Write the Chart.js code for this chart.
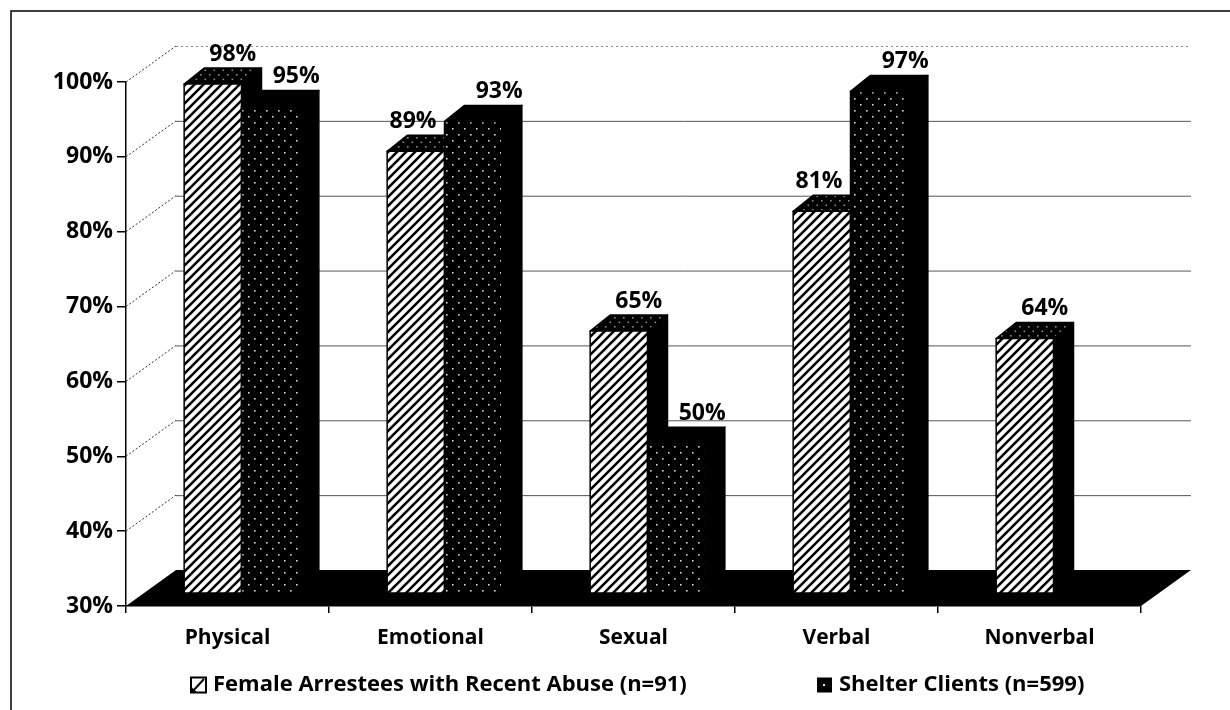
<!DOCTYPE html>
<html><head><meta charset="utf-8">
<script src="https://cdn.jsdelivr.net/npm/chart.js@4.4.1/dist/chart.umd.min.js"></script>
<style>html,body{margin:0;padding:0;background:#fff;}#wrap{width:1230px;height:710px;position:relative;}</style>
</head><body><div id="wrap"><canvas id="c" width="1230" height="710"></canvas></div>
<script>
const categories = ['Physical', 'Emotional', 'Sexual', 'Verbal', 'Nonverbal'];
const arresteeValues = [98, 89, 65, 81, 64];
const shelterValues = [95, 93, 50, 97, null];
const seriesLabels = ['Female Arrestees with Recent Abuse (n=91)', 'Shelter Clients (n=599)'];
const yMin = 30, yMax = 100, yStep = 10;

const FONT = '"Open Sans", "Liberation Sans", sans-serif';
const WALL_DX = 50, WALL_DY = -36;     // depth of the floor / back wall
const BAR_SHIFT_X = 14, BAR_SHIFT_Y = -13; // bars sit inside the floor depth
const BAR_DX = 20, BAR_DY = -16;       // depth of each bar

function makeHatch() {
  const c = document.createElement('canvas'); c.width = 9; c.height = 9;
  const g = c.getContext('2d');
  g.fillStyle = '#fff'; g.fillRect(0, 0, 9, 9);
  g.strokeStyle = '#000'; g.lineWidth = 2.6;
  g.beginPath();
  g.moveTo(-2, 11); g.lineTo(11, -2);
  g.moveTo(-11, 11); g.lineTo(2, -2);
  g.moveTo(7, 11); g.lineTo(20, -2);
  g.stroke();
  return g.createPattern(c, 'repeat');
}
function makeDots(bg, dot, size) {
  const c = document.createElement('canvas'); c.width = size; c.height = size;
  const g = c.getContext('2d');
  g.fillStyle = bg; g.fillRect(0, 0, size, size);
  g.fillStyle = dot;
  g.fillRect(2, 2, 1.6, 1.6);
  g.fillRect(2 + size / 2, 2 + size / 2, 1.6, 1.6);
  return g.createPattern(c, 'repeat');
}
const hatch = makeHatch();
const dots = makeDots('#000', '#d8d8d8', 12);
const topDots = makeDots('#000', '#8a8a8a', 9);

const framePlugin = {
  id: 'frame',
  beforeDraw(chart) {
    const ctx = chart.ctx;
    ctx.save();
    ctx.fillStyle = '#fff';
    ctx.fillRect(0, 0, chart.width, chart.height);
    ctx.strokeStyle = '#000'; ctx.lineWidth = 1.5;
    ctx.beginPath();
    ctx.moveTo(11, chart.height + 2); ctx.lineTo(11, 11); ctx.lineTo(chart.width + 2, 11);
    ctx.stroke();
    ctx.restore();
  }
};

const wallPlugin = {
  id: 'wall',
  beforeDatasetsDraw(chart) {
    const ctx = chart.ctx, a = chart.chartArea, ys = chart.scales.y;
    ctx.save();
    for (let v = yMin + yStep; v <= yMax; v += yStep) {
      const y = ys.getPixelForValue(v);
      ctx.strokeStyle = v === yMax ? '#888' : '#555';
      ctx.lineWidth = 1;
      ctx.setLineDash(v === yMax ? [2, 3] : []);
      ctx.beginPath();
      ctx.moveTo(a.left + WALL_DX, y + WALL_DY + 0.5);
      ctx.lineTo(a.right + WALL_DX, y + WALL_DY + 0.5);
      ctx.stroke();
      ctx.strokeStyle = '#333';
      ctx.setLineDash([2, 2]);
      ctx.beginPath();
      ctx.moveTo(a.left, y);
      ctx.lineTo(a.left + WALL_DX, y + WALL_DY);
      ctx.stroke();
    }
    ctx.setLineDash([]);
    const yb = ys.getPixelForValue(yMin);
    ctx.fillStyle = '#000';
    ctx.beginPath();
    ctx.moveTo(a.left, yb);
    ctx.lineTo(a.right, yb);
    ctx.lineTo(a.right + WALL_DX, yb + WALL_DY);
    ctx.lineTo(a.left + WALL_DX, yb + WALL_DY);
    ctx.closePath();
    ctx.fill();
    ctx.restore();
  }
};

const barsPlugin = {
  id: 'bars3d',
  afterDatasetsDraw(chart) {
    const ctx = chart.ctx, ys = chart.scales.y;
    const floorPx = ys.getPixelForValue(yMin);
    ctx.save();
    ctx.font = 'bold 23px ' + FONT;
    const labels = [];
    const sets = chart.data.datasets;
    for (let i = 0; i < categories.length; i++) {
      const geo = sets.map((ds, di) => {
        const v = ds.data[i];
        if (v == null) return null;
        const p = chart.getDatasetMeta(di).data[i].getProps(['x', 'y', 'base', 'width'], true);
        return {
          v,
          xl: p.x - p.width / 2 + BAR_SHIFT_X, xr: p.x + p.width / 2 + BAR_SHIFT_X,
          yt: p.y + BAR_SHIFT_Y, yb: Math.min(p.base, floorPx) + BAR_SHIFT_Y
        };
      });
      geo.forEach((g, di) => {
        if (!g) return;
        const { xl, xr, yt, yb } = g;
        ctx.lineWidth = 1.5; ctx.strokeStyle = '#000'; ctx.lineJoin = 'round';
        ctx.fillStyle = '#000';
        ctx.beginPath();
        ctx.moveTo(xr, yt); ctx.lineTo(xr + BAR_DX, yt + BAR_DY);
        ctx.lineTo(xr + BAR_DX, yb + BAR_DY); ctx.lineTo(xr, yb);
        ctx.closePath(); ctx.fill(); ctx.stroke();
        ctx.fillStyle = di === 0 ? topDots : '#000';
        ctx.beginPath();
        ctx.moveTo(xl, yt); ctx.lineTo(xr, yt);
        ctx.lineTo(xr + BAR_DX, yt + BAR_DY); ctx.lineTo(xl + BAR_DX, yt + BAR_DY);
        ctx.closePath(); ctx.fill(); ctx.stroke();
        ctx.fillStyle = di === 0 ? hatch : dots;
        ctx.beginPath();
        ctx.rect(xl, yt, xr - xl, yb - yt);
        ctx.fill(); ctx.stroke();
        const text = g.v + '%';
        let cx = (xl + xr) / 2 + BAR_DX + (di === 0 ? 0 : 6);
        const next = geo[di + 1];
        if (next && next.v > g.v) {
          const half = ctx.measureText(text).width / 2;
          cx = Math.min(cx, next.xl - 8 - half);
        }
        labels.push({ text, x: cx, y: yt + BAR_DY - 14 });
      });
    }
    ctx.fillStyle = '#000';
    ctx.textAlign = 'center'; ctx.textBaseline = 'middle';
    labels.forEach(l => ctx.fillText(l.text, l.x, l.y));
    ctx.restore();
  }
};

const legendPlugin = {
  id: 'legend2',
  afterDraw(chart) {
    const ctx = chart.ctx;
    ctx.save();
    const y = 685;
    const items = [{ box: 191, pat: hatch }, { box: 817, pat: null }];
    ctx.font = 'bold 22px ' + FONT;
    ctx.textBaseline = 'middle'; ctx.textAlign = 'left';
    items.forEach((it, k) => {
      ctx.strokeStyle = '#000'; ctx.lineWidth = 2;
      if (it.pat) {
        ctx.fillStyle = '#fff';
        ctx.fillRect(it.box, y - 7.5, 15, 15);
        ctx.fillStyle = '#000';
        ctx.beginPath();
        ctx.moveTo(it.box, y + 7.5); ctx.lineTo(it.box + 6, y + 7.5); ctx.lineTo(it.box, y + 1.5);
        ctx.closePath(); ctx.fill();
        ctx.beginPath();
        ctx.moveTo(it.box + 2, y + 6); ctx.lineTo(it.box + 13, y - 6);
        ctx.stroke();
        ctx.strokeRect(it.box, y - 7.5, 15, 15);
      } else {
        ctx.fillStyle = '#000';
        ctx.fillRect(it.box, y - 7.5, 15, 15);
        ctx.fillStyle = '#ddd';
        ctx.fillRect(it.box + 6, y - 1, 2, 2);
      }
      ctx.fillStyle = '#000';
      ctx.fillText(chart.data.datasets[k].label, it.box + 22, y);
    });
    ctx.restore();
  }
};

new Chart(document.getElementById('c'), {
  type: 'bar',
  data: {
    labels: categories,
    datasets: [
      { label: seriesLabels[0], data: arresteeValues, backgroundColor: 'rgba(0,0,0,0)', borderWidth: 0 },
      { label: seriesLabels[1], data: shelterValues, backgroundColor: 'rgba(0,0,0,0)', borderWidth: 0 }
    ]
  },
  options: {
    responsive: false,
    animation: false,
    devicePixelRatio: 1,
    events: [],
    categoryPercentage: 0.565,
    barPercentage: 1,
    layout: { padding: { left: 0, right: 89, top: 82, bottom: 0 } },
    plugins: { legend: { display: false }, tooltip: { enabled: false } },
    scales: {
      x: {
        grid: { display: true, drawOnChartArea: false, drawTicks: true, tickLength: 7, color: '#000', lineWidth: 1.5, offset: true },
        border: { display: true, color: '#000', width: 1.5 },
        ticks: { color: '#000', font: { family: FONT, size: 21, weight: 'bold' }, padding: 12, maxRotation: 0 },
        afterFit(s) { s.height = 104; }
      },
      y: {
        min: yMin, max: yMax,
        ticks: { stepSize: yStep, color: '#000', font: { family: FONT, size: 23, weight: 'bold' }, padding: 4, callback: v => v + '%' },
        grid: { display: true, drawOnChartArea: false, tickLength: 9, color: '#000', lineWidth: 1.5 },
        border: { display: true, color: '#000', width: 1.5 },
        afterFit(s) { s.width = 126; }
      }
    }
  },
  plugins: [framePlugin, wallPlugin, barsPlugin, legendPlugin]
});
</script></body></html>
